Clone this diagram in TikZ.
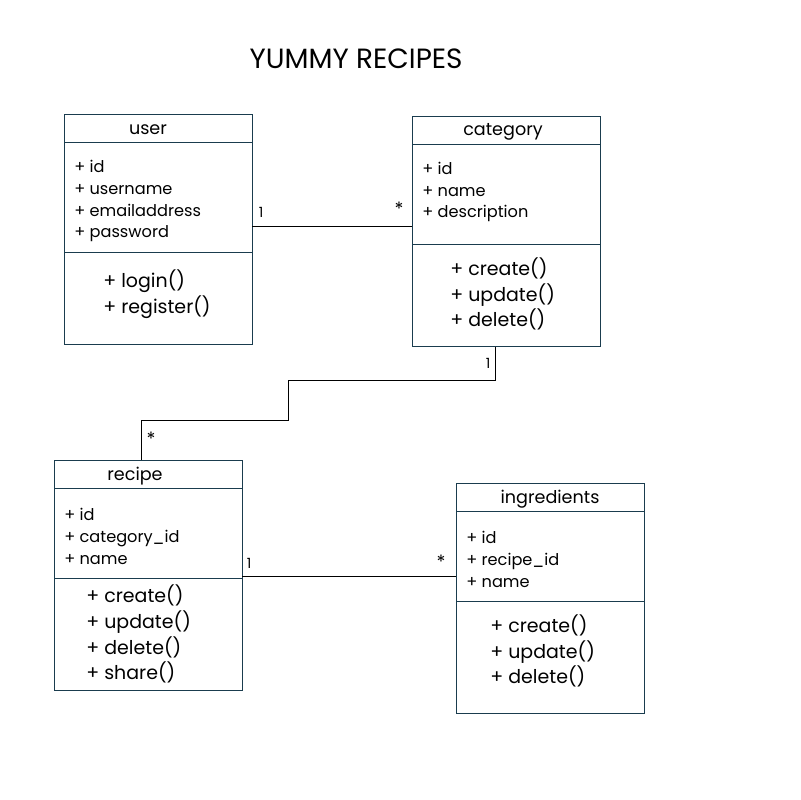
\documentclass[tikz,border=0pt]{standalone}
\usepackage{fontspec}
\setmainfont{Poppins}
\usetikzlibrary{positioning}
\definecolor{boxline}{HTML}{1A3C4E}
\tikzset{
  classbox/.style={draw=boxline, line width=0.7pt, rectangle, inner sep=0pt,
    anchor=north west, minimum width=4.7cm, minimum height=5.75cm},
  divider/.style={draw=boxline, line width=0.7pt},
  classname/.style={font=\fontsize{12.5}{15}\selectfont, inner sep=0pt},
  attrlist/.style={font=\fontsize{11.5}{15.6}\selectfont, align=left, anchor=west, inner sep=0pt},
  methlist/.style={font=\fontsize{13.5}{18.4}\selectfont, align=left, anchor=west, inner sep=0pt},
  mult/.style={font=\fontsize{10}{12}\selectfont, inner sep=0pt},
  many/.style={font=\fontsize{13}{14}\selectfont, inner sep=0pt},
  assoc/.style={draw=black, line width=0.7pt}
}

\begin{document}
\begin{tikzpicture}[x=0.025cm, y=-0.025cm]
  \useasboundingbox[fill=white] (0,0) rectangle (800,800);

  \node[font=\fontsize{19.8}{22}\selectfont, inner sep=0pt] (title) at (356,59) {YUMMY RECIPES};

  % user
  \node[classbox] (user) at (64,114) {};
  \draw[divider] (64,142) -- (252,142);
  \draw[divider] (64,252) -- (252,252);
  \node[classname] (username) at (148,130) {user};
  \node[attrlist] (userattr) at (74,201) {+ id\\+ username\\+ emailaddress\\+ password};
  \node[methlist] (usermeth) at (103,294) {+ login()\\+ register()};

  % category
  \node[classbox] (category) at (412,116) {};
  \draw[divider] (412,144) -- (600,144);
  \draw[divider] (412,244) -- (600,244);
  \node[classname] (categoryname) at (503,132) {category};
  \node[attrlist] (categoryattr) at (422,192) {+ id\\+ name\\+ description};
  \node[methlist] (categorymeth) at (450,294) {+ create()\\+ update()\\+ delete()};

  % recipe
  \node[classbox] (recipe) at (54,460) {};
  \draw[divider] (54,488) -- (242,488);
  \draw[divider] (54,578) -- (242,578);
  \node[classname] (recipename) at (135,476) {recipe};
  \node[attrlist] (recipeattr) at (64,536) {+ id\\+ category\_id\\+ name};
  \node[methlist] (recipemeth) at (86,634) {+ create()\\+ update()\\+ delete()\\+ share()};

  % ingredients
  \node[classbox] (ingredients) at (456,483) {};
  \draw[divider] (456,511) -- (644,511);
  \draw[divider] (456,601) -- (644,601);
  \node[classname] (ingredientsname) at (550,499) {ingredients};
  \node[attrlist] (ingredientsattr) at (466,559) {+ id\\+ recipe\_id\\+ name};
  \node[methlist] (ingredientsmeth) at (490,651) {+ create()\\+ update()\\+ delete()};

  % associations
  \coordinate (uc) at (252,226);
  \draw[assoc] (uc) -- (uc -| category.west);
  \node[mult] (ucone) at (261,212) {1};
  \node[many] (ucmany) at (399,209) {*};

  \coordinate (cr) at (495,380);
  \coordinate (rc) at (141,420);
  \draw[assoc] (category.south -| cr) -- (cr) -- (288,380) -- (288,420) -- (rc) -- (recipe.north -| rc);
  \node[mult] (crone) at (488,363) {1};
  \node[many] (crmany) at (151,439) {*};

  \coordinate (ri) at (242,576);
  \draw[assoc] (ri) -- (ri -| ingredients.west);
  \node[mult] (rione) at (249,563) {1};
  \node[many] (rimany) at (441,562) {*};
\end{tikzpicture}
\end{document}
